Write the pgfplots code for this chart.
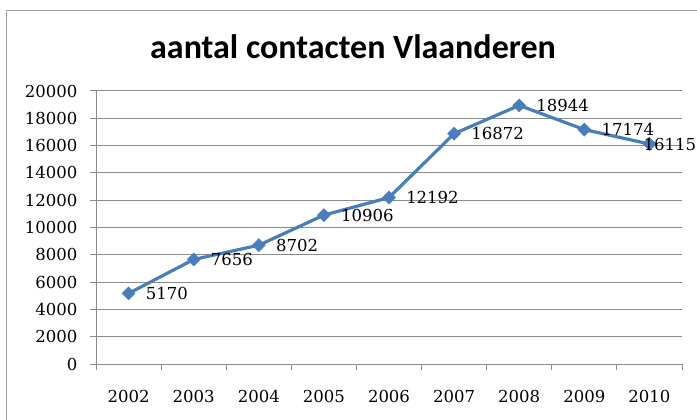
\documentclass[border=0pt]{standalone}
\usepackage{pgfplots}
\pgfplotsset{compat=1.18}
\usepackage{fontspec}
\setmainfont{DejaVu Serif}
\newfontfamily\titlefont{Carlito}
\definecolor{serie}{HTML}{4A7EBB}
\definecolor{gridc}{HTML}{8C8C8C}
\begin{document}
\begin{tikzpicture}
\path[use as bounding box] (0,0) rectangle (697bp,420bp);
\fill[white] (0,0) rectangle (697bp,420bp);
\draw[gridc!80, line width=1bp] (6.5bp,-20bp) rectangle (720bp,409.5bp);
\node[font=\titlefont\bfseries\fontsize{34bp}{40bp}\selectfont] at (353bp,373bp) {aantal contacten Vlaanderen};
\begin{axis}[
  at={(96bp,56bp)}, anchor=south west,
  scale only axis, width=586bp, height=273bp,
  xmin=-0.5, xmax=8.5, ymin=0, ymax=20000,
  xtick={0,...,8},
  xticklabels={2002,2003,2004,2005,2006,2007,2008,2009,2010},
  minor xtick={-0.5,0.5,...,8.5},
  ytick={0,2000,...,20000},
  major x tick style={draw=none},
  minor tick length=6bp, major tick length=6bp,
  tick align=outside,
  tick style={gridc, line width=1bp},
  axis x line*=bottom, axis y line*=left,
  axis line style={gridc, line width=1bp, -},
  ymajorgrids, grid style={gridc, line width=1bp},
  /pgf/number format/assume math mode=true,
  /pgf/number format/1000 sep={},
  scaled y ticks=false,
  tick label style={font=\fontsize{16.5bp}{20bp}\selectfont, black},
  xticklabel style={yshift=-17bp},
  yticklabel style={xshift=-9bp},
  clip=false,
]
\addplot[serie, line width=3.2bp, mark=diamond*, mark size=6.5bp,
  mark options={xscale=1.33, fill=serie, draw=serie, line width=0.5bp},
  point meta=explicit symbolic,
  nodes near coords,
  nodes near coords style={anchor=west, inner sep=0pt, xshift=17bp, black, font=\fontsize{16.5bp}{20bp}\selectfont},
] coordinates {
  (0,5170) [5170]
  (1,7656) [7656]
  (2,8702) [8702]
  (3,10906) [10906]
  (4,12192) [12192]
  (5,16872) [16872]
  (6,18944) [18944]
  (7,17174) [17174]
  (8,16115) []
};
\addplot[draw=none, mark=none,
  point meta=explicit symbolic,
  nodes near coords,
  nodes near coords style={anchor=west, inner sep=0pt, xshift=-6bp, black, font=\fontsize{16.5bp}{20bp}\selectfont},
] coordinates {(8,16115) [16115]};
\end{axis}
\end{tikzpicture}
\end{document}
